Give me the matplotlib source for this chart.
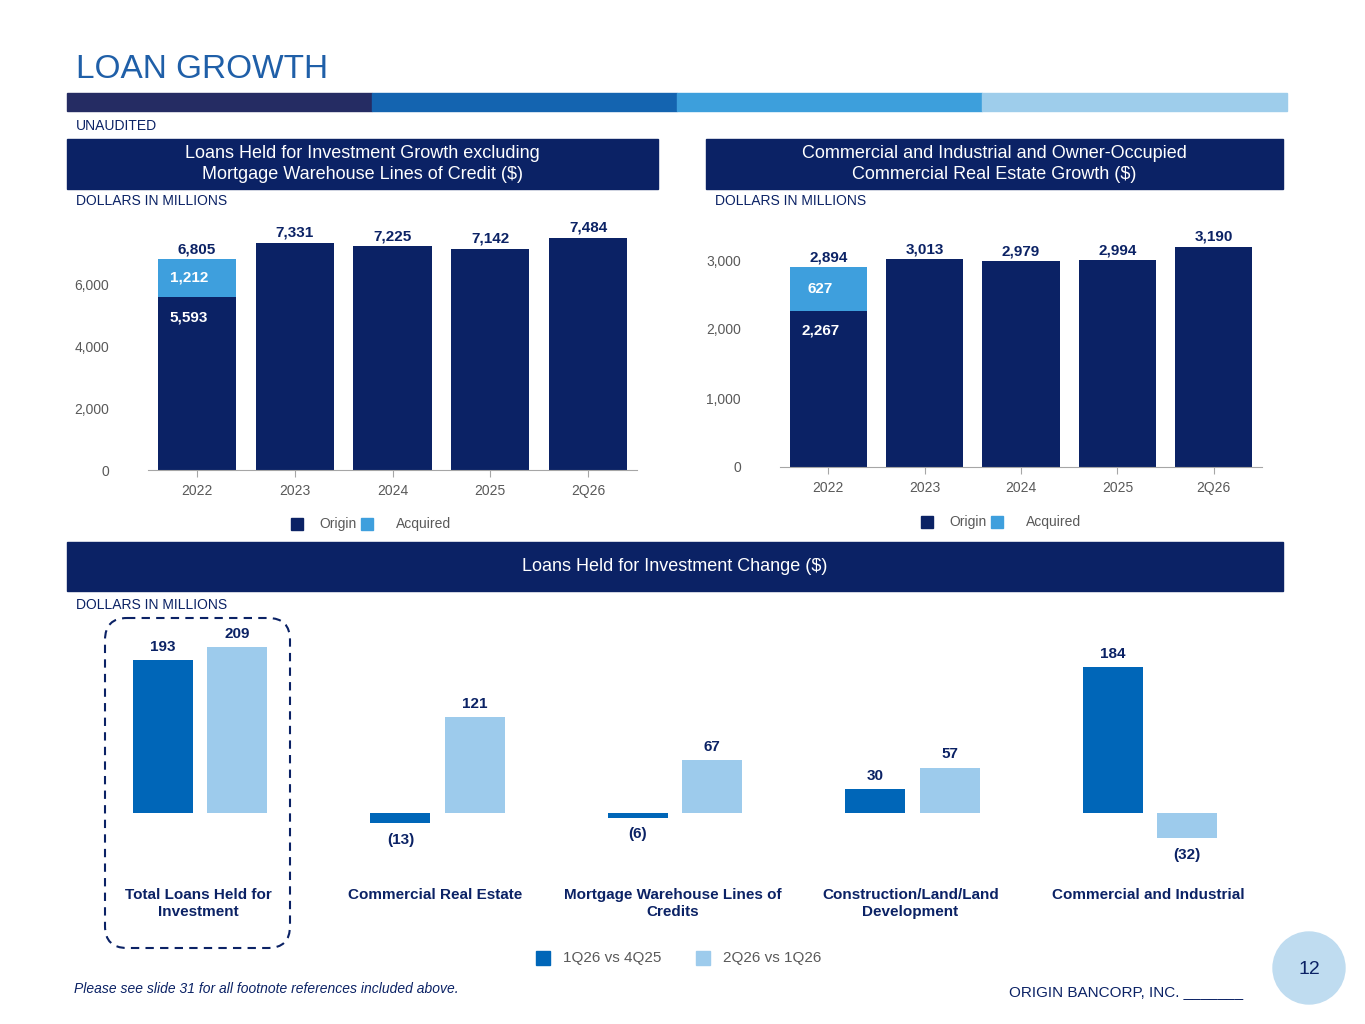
import matplotlib
matplotlib.use('Agg')
import matplotlib.pyplot as plt
from matplotlib.patches import Rectangle, FancyBboxPatch, Circle
import numpy as np

W, H = 1365, 1024
NAVY = '#0B2265'
ACQ = '#3E9FDD'
DARK = '#0066B8'
LIGHT = '#9DCBEC'
GREY = '#595959'

years = ['2022', '2023', '2024', '2025', '2Q26']
lhfi_origin = [5593, 7331, 7225, 7142, 7484]
lhfi_acquired = [1212, 0, 0, 0, 0]
ci_origin = [2267, 3013, 2979, 2994, 3190]
ci_acquired = [627, 0, 0, 0, 0]

categories = ['Total Loans Held for\nInvestment', 'Commercial Real Estate',
              'Mortgage Warehouse Lines of\nCredits', 'Construction/Land/Land\nDevelopment',
              'Commercial and Industrial']
chg_q1 = [193, -13, -6, 30, 184]
chg_q2 = [209, 121, 67, 57, -32]

fig = plt.figure(figsize=(W / 100, H / 100), dpi=100)
plt.rcParams['font.family'] = ['Arial', 'Liberation Sans', 'DejaVu Sans']


def px_axes(x0, y0, x1, y1, **kw):
    # pixel box (top-left origin) -> figure axes
    return fig.add_axes([x0 / W, 1 - y1 / H, (x1 - x0) / W, (y1 - y0) / H], **kw)


bg = px_axes(0, 0, W, H)
bg.set_xlim(0, W)
bg.set_ylim(H, 0)
bg.axis('off')

bg.text(76, 70, 'LOAN GROWTH', fontsize=24, color='#1F5FA8', va='center')
for i, c in enumerate(['#252C63', '#1464B0', '#3D9FDC', '#9ECDEB']):
    bg.add_patch(Rectangle((67 + i * 305, 93), 305, 18, color=c))
bg.text(76, 126, 'UNAUDITED', fontsize=10, color=NAVY, va='center')

for x0, x1, y0, y1, txt in [(67, 658, 139, 189, 'Loans Held for Investment Growth excluding\nMortgage Warehouse Lines of Credit ($)'),
                             (706, 1283, 139, 189, 'Commercial and Industrial and Owner-Occupied\nCommercial Real Estate Growth ($)'),
                             (67, 1283, 542, 591, 'Loans Held for Investment Change ($)')]:
    bg.add_patch(Rectangle((x0, y0), x1 - x0, y1 - y0, color=NAVY))
    bg.text((x0 + x1) / 2, (y0 + y1) / 2, txt, color='white', fontsize=13, ha='center', va='center', linespacing=1.3)

bg.text(76, 201, 'DOLLARS IN MILLIONS', fontsize=10, color=NAVY, va='center')
bg.text(715, 201, 'DOLLARS IN MILLIONS', fontsize=10, color=NAVY, va='center')
bg.text(76, 605, 'DOLLARS IN MILLIONS', fontsize=10, color=NAVY, va='center')

bg.add_patch(FancyBboxPatch((105, 618), 185, 330, boxstyle='round,pad=0,rounding_size=22',
                            fill=False, ec=NAVY, lw=1.5, ls=(0, (4, 3))))

# legends
for lx, ly in [(297, 524), (927, 522)]:
    bg.add_patch(Rectangle((lx - 6, ly - 6), 12, 12, color=NAVY))
    bg.text(lx + 22, ly, 'Origin', fontsize=10, color=GREY, va='center')
    bg.add_patch(Rectangle((lx + 70 - 6, ly - 6), 12, 12, color=ACQ))
    bg.text(lx + 99, ly, 'Acquired', fontsize=10, color=GREY, va='center')
for lx, c, t in [(543, DARK, '1Q26 vs 4Q25'), (703, LIGHT, '2Q26 vs 1Q26')]:
    bg.add_patch(Rectangle((lx - 7, 951), 14, 14, color=c))
    bg.text(lx + 20, 958, t, fontsize=11, color=GREY, va='center')

bg.text(74, 989, 'Please see slide 31 for all footnote references included above.', fontsize=10,
        color=NAVY, style='italic', va='center')
bg.text(1009, 992, 'ORIGIN BANCORP, INC. _______', fontsize=11, color=NAVY, va='center')
bg.add_patch(Circle((1309, 968), 36, color='#BFDCF0'))
bg.text(1309, 970, '12', fontsize=14, color=NAVY, ha='center', va='center')


def stacked(ax, origin, acquired, ymax, ticks):
    x = np.arange(len(years))
    ax.bar(x, origin, width=0.8, color=NAVY)
    ax.bar(x, acquired, bottom=origin, width=0.8, color=ACQ)
    ax.set_xlim(-0.5, len(years) - 0.5)
    ax.set_ylim(0, ymax)
    ax.set_yticks(ticks)
    ax.set_yticklabels([f'{t:,}' for t in ticks], fontsize=10, color=GREY)
    ax.set_xticks(x)
    ax.set_xticklabels(years, fontsize=10, color=GREY)
    for s in ['top', 'right', 'left']:
        ax.spines[s].set_visible(False)
    ax.spines['bottom'].set_color('#A6A6A6')
    ax.tick_params(axis='y', length=0, pad=28)
    ax.tick_params(axis='x', length=5, color='#A6A6A6', pad=5)
    for i in range(len(years)):
        tot = origin[i] + acquired[i]
        ax.text(i, tot + ymax * 0.012, f'{tot:,}', ha='center', va='bottom', fontsize=11,
                fontweight='bold', color=NAVY)
        if acquired[i]:
            ax.text(i - 0.08, origin[i] * 0.92, f'{origin[i]:,}', ha='center', va='top',
                    fontsize=11, fontweight='bold', color='white')
            ax.text(i - 0.08, origin[i] + acquired[i] / 2, f'{acquired[i]:,}', ha='center',
                    va='center', fontsize=11, fontweight='bold', color='white')


ax1 = px_axes(148, 220, 637, 470)
stacked(ax1, lhfi_origin, lhfi_acquired, 250 / 62 * 2000, [0, 2000, 4000, 6000])
ax2 = px_axes(780, 225, 1262, 467)
stacked(ax2, ci_origin, ci_acquired, 242 / 69 * 1000, [0, 1000, 2000, 3000])

ax3 = px_axes(200 - 0.55 * 237.5, 625, 1150 + 0.55 * 237.5, 870)
x = np.arange(len(categories))
ax3.bar(x - 0.156, chg_q1, width=0.253, color=DARK)
ax3.bar(x + 0.156, chg_q2, width=0.253, color=LIGHT)
ax3.set_xlim(-0.55, len(categories) - 1 + 0.55)
ax3.set_ylim(-57 / 0.793, 188 / 0.793)
ax3.axis('off')
for i in range(len(categories)):
    for off, v in [(-0.156, chg_q1[i]), (0.156, chg_q2[i])]:
        lbl = f'{v}' if v >= 0 else f'({-v})'
        if v >= 0:
            ax3.text(i + off, v + 8, lbl, ha='center', va='bottom', fontsize=11, fontweight='bold', color=NAVY)
        else:
            ax3.text(i + off, v - 12, lbl, ha='center', va='top', fontsize=11, fontweight='bold', color=NAVY)
    bg.text(198 + i * 237.5, 888, categories[i], ha='center', va='top', fontsize=11,
            fontweight='bold', color=NAVY, linespacing=1.3)

fig.savefig('out.png', dpi=100)
